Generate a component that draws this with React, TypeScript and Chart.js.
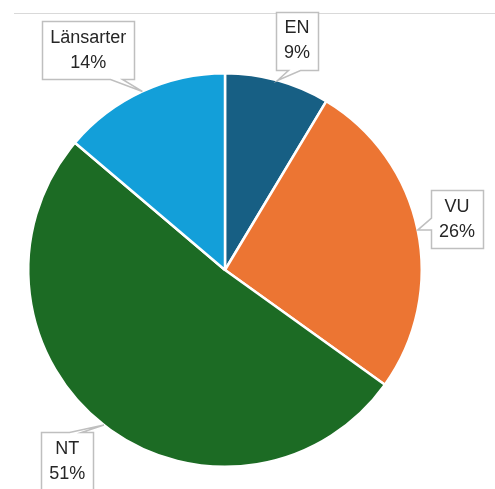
import React, { useEffect, useRef } from "react";
import { Chart, registerables } from "chart.js";

Chart.register(...registerables);

const categories = ["EN", "VU", "NT", "Länsarter"];
const shares = [8.6, 26.3, 51.3, 13.8];
const colors = ["#175f84", "#ec7533", "#1c6b24", "#139fd9"];

const calloutPlugin = {
  id: "callouts",
  beforeDraw(chart: any) {
    const ctx = chart.ctx;
    ctx.save();
    ctx.strokeStyle = "#d9d9d9";
    ctx.lineWidth = 1;
    ctx.beginPath();
    ctx.moveTo(14, 13.5);
    ctx.lineTo(chart.width, 13.5);
    ctx.stroke();
    ctx.restore();
  },
  afterDatasetsDraw(chart: any, _args: any, opts: any) {
    const ctx = chart.ctx;
    const meta = chart.getDatasetMeta(0);
    const data = chart.data.datasets[0].data as number[];
    const total = data.reduce((a, b) => a + b, 0);
    ctx.save();
    ctx.font = opts.font;
    ctx.textAlign = "center";
    ctx.textBaseline = "middle";
    meta.data.forEach((arc: any, i: number) => {
      const { x, y, startAngle, endAngle, outerRadius } = arc.getProps(
        ["x", "y", "startAngle", "endAngle", "outerRadius"],
        true
      );
      const mid = (startAngle + endAngle) / 2;
      const tipX = x + Math.cos(mid) * outerRadius;
      const tipY = y + Math.sin(mid) * outerRadius;
      const d = outerRadius * opts.distance;
      const nudge = opts.nudges[i] || [0, 0];
      const cx = x + Math.cos(mid) * d + nudge[0];
      const cy = y + Math.sin(mid) * d + nudge[1];
      const line1 = chart.data.labels[i];
      const line2 = Math.round((data[i] / total) * 100) + "%";
      const w =
        Math.max(ctx.measureText(line1).width, ctx.measureText(line2).width) +
        opts.padX * 2;
      const h = opts.height;
      const l = Math.round(cx - w / 2) + 0.5;
      const r = Math.round(cx + w / 2) + 0.5;
      const t = Math.round(cy - h / 2) + 0.5;
      const b = Math.round(cy + h / 2) + 0.5;
      const ox = tipX < l ? l - tipX : tipX > r ? tipX - r : 0;
      const oy = tipY < t ? t - tipY : tipY > b ? tipY - b : 0;
      const bw = opts.wedge;
      const pts: number[][] = [];
      const vertical = oy > 0 && oy >= ox * 0.6;
      if (vertical) {
        const bx = Math.min(Math.max(tipX, l + bw), r - bw);
        const bx0 = tipX < cx ? bx : bx - bw;
        const bx1 = bx0 + bw;
        if (tipY < t) {
          pts.push([l, t], [bx0, t], [tipX, tipY], [bx1, t], [r, t], [r, b], [l, b]);
        } else {
          pts.push([l, t], [r, t], [r, b], [bx1, b], [tipX, tipY], [bx0, b], [l, b]);
        }
      } else {
        const by = Math.min(Math.max(tipY, t + bw), b - bw);
        const by0 = tipY < cy ? by : by - bw;
        const by1 = by0 + bw;
        if (tipX < l) {
          pts.push([l, t], [r, t], [r, b], [l, b], [l, by1], [tipX, tipY], [l, by0]);
        } else {
          pts.push([l, t], [r, t], [r, by0], [tipX, tipY], [r, by1], [r, b], [l, b]);
        }
      }
      ctx.beginPath();
      pts.forEach((p, k) => (k ? ctx.lineTo(p[0], p[1]) : ctx.moveTo(p[0], p[1])));
      ctx.closePath();
      ctx.fillStyle = "#ffffff";
      ctx.fill();
      ctx.strokeStyle = opts.borderColor;
      ctx.lineWidth = 1.5;
      ctx.stroke();
      ctx.fillStyle = opts.color;
      ctx.fillText(line1, cx, cy - opts.lineHeight / 2);
      ctx.fillText(line2, cx, cy + opts.lineHeight / 2);
    });
    ctx.restore();
  },
};

export default function App() {
  const ref = useRef<HTMLCanvasElement | null>(null);
  useEffect(() => {
    if (!ref.current) return;
    const chart = new Chart(ref.current, {
      type: "pie",
      data: {
        labels: categories,
        datasets: [
          {
            data: shares,
            backgroundColor: colors,
            borderColor: "#ffffff",
            borderWidth: 2.5,
          },
        ],
      },
      options: {
        animation: false,
        responsive: false,
        maintainAspectRatio: false,
        layout: { padding: { left: 27, right: 72, top: 72, bottom: 21 } },
        plugins: {
          legend: { display: false },
          tooltip: { enabled: false },
          callouts: {
            font: "18px 'Liberation Sans', Arial, sans-serif",
            color: "#262626",
            borderColor: "#bfbfbf",
            distance: 1.22,
            padX: 8,
            height: 58,
            lineHeight: 25,
            wedge: 12,
            nudges: [
              [8, 2],
              [-3, -2],
              [-10, 2],
              [-36, -2],
            ],
          },
        } as any,
      },
      plugins: [calloutPlugin],
    });
    return () => chart.destroy();
  }, []);
  return (
    <div style={{ position: "absolute", left: 0, top: 0, width: 495, height: 489, background: "#fff" }}>
      <canvas ref={ref} width={495} height={489} style={{ display: "block" }} />
    </div>
  );
}
